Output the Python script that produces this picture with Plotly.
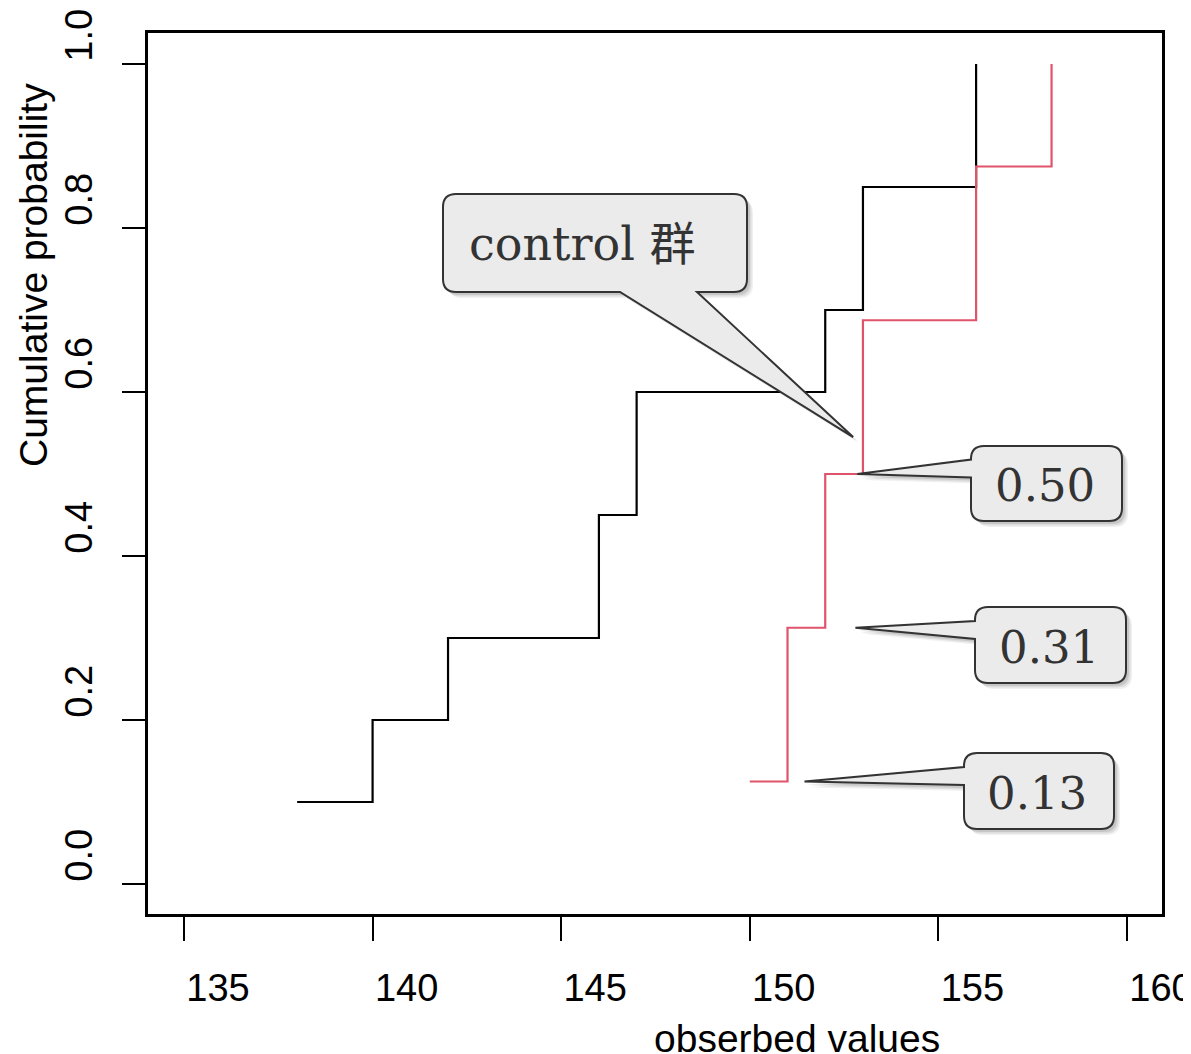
import plotly.graph_objects as go

# ---------------- data ----------------
control_x = [138, 140, 142, 146, 147, 152, 153, 156]
control_p = [0.10, 0.20, 0.30, 0.45, 0.60, 0.70, 0.85, 1.00]

treat_x = [150, 151, 152, 153, 156, 158]
treat_p = [0.125, 0.3125, 0.5, 0.6875, 0.875, 1.0]

x_ticks = [135, 140, 145, 150, 155, 160]
y_ticks = [0.0, 0.2, 0.4, 0.6, 0.8, 1.0]
y_tick_labels = ["0.0", "0.2", "0.4", "0.6", "0.8", "1.0"]

# labelled points (tip positions in data units) and their labels
label_tip_x = [152.85, 152.80, 151.45]
label_tip_p = [0.5, 0.3125, 0.125]
label_text = ["0.50", "0.31", "0.13"]
group_tip = (152.74, 0.545)
group_text = "control 群"

# ---------------- layout constants ----------------
OFF = 8                     # default body margin of the html page
W, H = 1191 - OFF, 1054 - OFF
L, T = 148 - OFF, 33 - OFF
R = W - (1162 - OFF)
B = H - (914 - OFF)
PW, PH = W - L - R, H - T - B
X0, X1 = 134.046, 160.928
Y0, Y1 = -0.0366, 1.0378


# page-pixel <-> data helpers
def x2px(x):
    return OFF + L + (x - X0) / (X1 - X0) * PW


def px2x(p):
    return X0 + (p - OFF - L) / PW * (X1 - X0)


def y2px(y):
    return OFF + T + (Y1 - y) / (Y1 - Y0) * PH


def px2y(p):
    return Y1 - (p - OFF - T) / PH * (Y1 - Y0)


def px2paper_x(p):
    return (p - OFF - L) / PW


def px2paper_y(p):
    return 1 - (p - OFF - T) / PH


def bubble_path(box, tip, base, side, r=13, dx=0, dy=0):
    """box=(x0,y0,x1,y1) page px, tip=(px,py), base=(a,b) along given side."""
    x0, y0, x1, y1 = box[0] + dx, box[1] + dy, box[2] + dx, box[3] + dy
    tx, ty = tip[0] + dx, tip[1] + dy
    pts = []

    def P(cmd, *xy):
        s = cmd
        for i in range(0, len(xy), 2):
            s += f"{px2x(xy[i]):.5f},{px2y(xy[i + 1]):.6f} "
        pts.append(s)

    P("M", x0 + r, y0)
    P("L", x1 - r, y0)
    P("Q", x1, y0, x1, y0 + r)
    P("L", x1, y1 - r)
    P("Q", x1, y1, x1 - r, y1)
    if side == "bottom":
        a, b = base[0] + dx, base[1] + dx
        P("L", b, y1)
        P("L", tx, ty)
        P("L", a, y1)
    P("L", x0 + r, y1)
    P("Q", x0, y1, x0, y1 - r)
    if side == "left":
        a, b = base[0] + dy, base[1] + dy
        P("L", x0, b)
        P("L", tx, ty)
        P("L", x0, a)
    P("L", x0, y0 + r)
    P("Q", x0, y0, x0 + r, y0)
    return "".join(pts) + "Z"


fig = go.Figure()
fig.add_trace(go.Scatter(x=control_x, y=control_p, mode="lines",
                         line=dict(color="black", width=2.2, shape="hv"),
                         showlegend=False, hoverinfo="skip"))
fig.add_trace(go.Scatter(x=treat_x, y=treat_p, mode="lines",
                         line=dict(color="#DF536B", width=2.2, shape="hv"),
                         showlegend=False, hoverinfo="skip"))

# bubbles: (text, tip data, box px, base, side, text centre px, font size)
bubbles = [
    (group_text, group_tip, (443, 194, 747, 292), (620, 697), "bottom", (582, 244), 46),
]
boxes = [(971, 446, 1122, 521), (975, 607, 1126, 683), (964, 753, 1114, 829)]
for txt, tx, tp, bx in zip(label_text, label_tip_x, label_tip_p, boxes):
    cy = (bx[1] + bx[3]) / 2
    bubbles.append((txt, (tx, tp), bx, (cy - 24, cy - 6), "left",
                    ((bx[0] + bx[2]) / 2 - 2, cy + 2), 45))

shapes = []
annotations = []
for txt, tip, box, base, side, tc, fs in bubbles:
    tip_px = (x2px(tip[0]), y2px(tip[1]))
    for off, alpha in [(6, 0.06), (4.5, 0.08), (3, 0.10)]:
        shapes.append(dict(type="path", xref="x", yref="y", layer="above",
                           path=bubble_path(box, tip_px, base, side, dx=off, dy=off),
                           fillcolor=f"rgba(0,0,0,{alpha})", line=dict(width=0)))
    shapes.append(dict(type="path", xref="x", yref="y", layer="above",
                       path=bubble_path(box, tip_px, base, side),
                       fillcolor="#EBEBEB", line=dict(color="#333333", width=2)))
    annotations.append(dict(x=px2x(tc[0]), y=px2y(tc[1]), xref="x", yref="y",
                            text=txt, showarrow=False, xanchor="center", yanchor="middle",
                            font=dict(family="DejaVu Serif, Noto Sans CJK JP", size=fs,
                                      color="#333333")))

tick_font = dict(family="Liberation Sans, Arial", size=38, color="black")
title_font = dict(family="Liberation Sans, Arial", size=39, color="black")
annotations.append(dict(x=px2paper_x(797), y=px2paper_y(1038), xref="paper", yref="paper",
                        text="obserbed values", showarrow=False, xanchor="center",
                        yanchor="middle", font=title_font))
annotations.append(dict(x=px2paper_x(33), y=px2paper_y(275), xref="paper", yref="paper",
                        text="Cumulative probability", showarrow=False, textangle=-90,
                        xanchor="center", yanchor="middle", font=title_font))

fig.update_layout(
    width=W, height=H,
    margin=dict(l=L, r=R, t=T, b=B, pad=0, autoexpand=False),
    plot_bgcolor="white", paper_bgcolor="white",
    shapes=shapes, annotations=annotations,
    xaxis=dict(range=[X0, X1], tickvals=x_ticks, ticktext=[str(v) for v in x_ticks],
               showgrid=False, zeroline=False, showline=True, mirror=True,
               linecolor="black", linewidth=2.5, ticks="outside", ticklen=24,
               tickwidth=2, tickcolor="black", tickfont=tick_font, automargin=False,
               ticklabelshift=34, ticklabelstandoff=15, ticklabeloverflow="allow"),
    yaxis=dict(range=[Y0, Y1], tickvals=y_ticks, ticktext=y_tick_labels,
               showgrid=False, zeroline=False, showline=True, mirror=True,
               linecolor="black", linewidth=2.5, ticks="outside", ticklen=23,
               tickwidth=2, tickcolor="black", tickfont=tick_font, tickangle=-90,
               automargin=False,
               ticklabelshift=-23, ticklabelstandoff=15, ticklabeloverflow="allow"),
)

fig.write_html("out.html")
